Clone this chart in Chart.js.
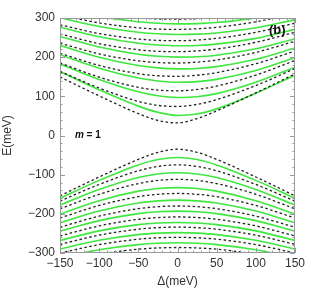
<!DOCTYPE html>
<html>
<head>
<meta charset="utf-8">
<script src="https://cdn.jsdelivr.net/npm/chart.js@4"></script>
<style>
  html, body { margin: 0; padding: 0; background: #fff; }
  #wrap { width: 311px; height: 289px; position: relative; }
</style>
</head>
<body>
<div id="wrap"><canvas id="myChart"></canvas></div>
<script>
// sample positions along the Δ axis (meV)
const deltas = [-150, -100, -50, -25, 0, 25, 50, 100, 150]

// upper band, black dashed levels (E in meV at each delta)
const upperDashed = [
    [149.5, 101.2, 56.0, 38.3, 32.2, 43.2, 62.8, 108.8, 157.3],
    [163.7, 121.2, 87.1, 76.9, 74.1, 79.5, 91.6, 127.6, 170.9],
    [185.2, 149.0, 122.9, 115.9, 114.1, 117.6, 126.1, 154.3, 191.6],
    [210.0, 178.9, 157.9, 152.5, 151.1, 153.8, 160.4, 183.3, 215.7],
    [235.7, 208.4, 190.6, 186.2, 185.0, 187.3, 192.7, 212.2, 240.7],
    [259.1, 234.5, 218.9, 215.0, 214.0, 216.0, 220.7, 237.9, 263.7],
    [282.6, 260.3, 246.3, 242.9, 242.0, 243.7, 248.0, 263.4, 286.8],
    [307.8, 287.5, 274.9, 271.8, 271.0, 272.5, 276.3, 290.3, 311.7],
    [330.9, 312.1, 300.5, 297.7, 297.0, 298.4, 301.9, 314.7, 334.5]
]

// upper band, green levels
const upperGreen = [
    [163.2, 116.7, 75.0, 59.2, 51.2, 54.8, 68.0, 107.8, 153.7],
    [182.9, 142.9, 111.5, 101.5, 97.1, 99.0, 106.9, 135.8, 174.5],
    [206.2, 171.8, 146.7, 139.3, 136.1, 137.5, 143.3, 165.9, 198.8],
    [230.1, 199.8, 178.7, 172.6, 170.1, 171.2, 175.9, 194.7, 223.4],
    [253.0, 225.9, 207.4, 202.2, 200.1, 201.0, 205.0, 221.4, 247.0],
    [276.5, 251.9, 235.5, 231.0, 229.1, 229.9, 233.4, 247.9, 271.0],
    [301.0, 278.5, 263.8, 259.7, 258.0, 258.8, 261.9, 274.9, 296.0],
    [324.4, 303.7, 290.3, 286.6, 285.0, 285.7, 288.5, 300.4, 319.8]
]

// lower band, black dashed levels
const lowerDashed = [
    [-154.0, -105.9, -61.0, -43.0, -35, -43.0, -61.0, -105.9, -154.0],
    [-167.7, -125.0, -90.1, -79.1, -75, -79.1, -90.1, -125.0, -167.7],
    [-187.2, -150.1, -122.7, -114.8, -112, -114.8, -122.7, -150.1, -187.2],
    [-210.7, -178.6, -156.2, -150.1, -148, -150.1, -156.2, -178.6, -210.7],
    [-234.3, -205.9, -186.8, -181.7, -180, -181.7, -186.8, -205.9, -234.3],
    [-256.4, -230.8, -213.9, -209.5, -208, -209.5, -213.9, -230.8, -256.4],
    [-277.9, -254.5, -239.3, -235.3, -234, -235.3, -239.3, -254.5, -277.9],
    [-300.2, -278.6, -264.8, -261.2, -260, -261.2, -264.8, -278.6, -300.2],
    [-323.0, -303.0, -290.3, -287.1, -286, -287.1, -290.3, -303.0, -323.0]
]

// lower band, green levels
const lowerGreen = [
    [-160.1, -114.6, -75.1, -61.3, -56, -61.3, -75.1, -114.6, -160.1],
    [-177.6, -137.9, -107.4, -98.2, -95, -98.2, -107.4, -137.9, -177.6],
    [-200.5, -166.4, -142.1, -135.3, -133, -135.3, -142.1, -166.4, -200.5],
    [-223.0, -192.9, -172.4, -166.9, -165, -166.9, -172.4, -192.9, -223.0],
    [-244.4, -217.4, -199.4, -194.6, -193, -194.6, -199.4, -217.4, -244.4],
    [-267.9, -243.5, -227.6, -223.4, -222, -223.4, -227.6, -243.5, -267.9],
    [-289.8, -267.4, -253.0, -249.3, -248, -249.3, -253.0, -267.4, -289.8],
    [-312.4, -291.7, -278.5, -275.1, -274, -275.1, -278.5, -291.7, -312.4]
]

const xTicks = [-150, -100, -50, 0, 50, 100, 150]
const yTicks = [-300, -200, -100, 0, 100, 200, 300]

const GREEN = '#3ee83e'
const DASH = '#222222'

const toPoints = arr => arr.map((e, i) => ({ x: deltas[i], y: e }))

let datasets = []

upperGreen.concat(lowerGreen).map(e => datasets.push({
    data: toPoints(e),
    borderColor: GREEN,
    borderWidth: 1.6,
    pointRadius: 0,
    fill: false,
    cubicInterpolationMode: 'monotone',
    order: 2
}))

upperDashed.concat(lowerDashed).map(e => datasets.push({
    data: toPoints(e),
    borderColor: DASH,
    borderWidth: 1.3,
    borderDash: [2.5, 2.5],
    pointRadius: 0,
    fill: false,
    cubicInterpolationMode: 'monotone',
    order: 1
}))

const minus = v => (v < 0 ? '\u2212' + Math.abs(v) : '' + v)

// frame + inward ticks + the two labels inside the plot
const framePlugin = {
    id: 'frame',
    afterDraw(chart) {
        const { ctx, chartArea: a, scales } = chart
        ctx.save()
        ctx.strokeStyle = '#9a9a9a'
        ctx.lineWidth = 1
        ctx.strokeRect(a.left + 0.5, a.top + 0.5, a.right - a.left - 1, a.bottom - a.top - 1)

        for (let v = -300; v <= 300; v += 20) {
            const y = Math.round(scales.y.getPixelForValue(v)) + 0.5
            const len = v % 100 == 0 ? 5 : 2.5
            ctx.beginPath()
            ctx.moveTo(a.left, y); ctx.lineTo(a.left + len, y)
            ctx.moveTo(a.right, y); ctx.lineTo(a.right - len, y)
            ctx.stroke()
        }
        for (let v = -150; v <= 150; v += 10) {
            const x = Math.round(scales.x.getPixelForValue(v)) + 0.5
            const len = v % 50 == 0 ? 5 : 2.5
            ctx.beginPath()
            ctx.moveTo(x, a.bottom); ctx.lineTo(x, a.bottom - len)
            ctx.moveTo(x, a.top); ctx.lineTo(x, a.top + len)
            ctx.stroke()
        }

        ctx.fillStyle = '#111'
        ctx.textBaseline = 'middle'
        ctx.font = 'bold 13px "Liberation Sans", Arial, sans-serif'
        ctx.textAlign = 'right'
        ctx.fillText('(b)', scales.x.getPixelForValue(138), scales.y.getPixelForValue(268))

        ctx.textAlign = 'left'
        const mx = scales.x.getPixelForValue(-131)
        const my = scales.y.getPixelForValue(0)
        ctx.font = 'italic bold 10px "Liberation Sans", Arial, sans-serif'
        ctx.fillText('m', mx, my)
        const w = ctx.measureText('m').width
        ctx.font = 'bold 10px "Liberation Sans", Arial, sans-serif'
        ctx.fillText(' = 1', mx + w, my)
        ctx.restore()
    }
}

const tickFont = { family: '"Liberation Sans", Arial, sans-serif', size: 12 }

const ctx = document.getElementById('myChart').getContext('2d')

const myChart = new Chart(ctx, {
    type: 'line',
    data: { datasets: datasets },
    options: {
        responsive: true,
        maintainAspectRatio: false,
        animation: false,
        layout: { padding: { top: 18, right: 16, left: 0, bottom: 0 } },
        plugins: {
            legend: { display: false },
            tooltip: { enabled: false }
        },
        scales: {
            x: {
                type: 'linear',
                min: -150,
                max: 150,
                afterBuildTicks: s => { s.ticks = xTicks.map(v => ({ value: v })) },
                afterFit: s => { s.height = 36 },
                grid: { display: false, drawTicks: false },
                border: { display: false },
                ticks: { color: '#333', font: tickFont, padding: 3, maxRotation: 0, callback: v => minus(v) },
                title: { display: true, text: 'Δ(meV)', color: '#333', font: tickFont, padding: { top: 0, bottom: 0 } }
            },
            y: {
                type: 'linear',
                min: -300,
                max: 300,
                afterBuildTicks: s => { s.ticks = yTicks.map(v => ({ value: v })) },
                afterFit: s => { s.width = 60 },
                grid: { display: false, drawTicks: false },
                border: { display: false },
                ticks: { color: '#333', font: tickFont, padding: 5, callback: v => minus(v) },
                title: { display: true, text: 'E(meV)', color: '#333', font: tickFont, padding: { top: 0, bottom: 0 } }
            }
        }
    },
    plugins: [framePlugin]
})
</script>
</body>
</html>
